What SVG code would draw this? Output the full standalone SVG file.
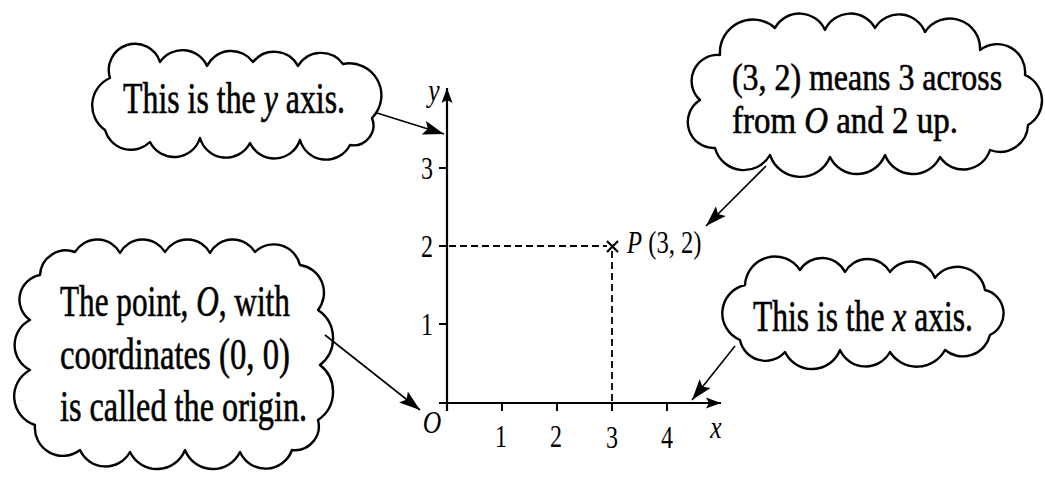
<svg xmlns="http://www.w3.org/2000/svg" width="1045" height="479" viewBox="0 0 1045 479">
  <style>
    .cloud { fill: #fff; stroke: #000; stroke-width: 2.4; stroke-linejoin: round; }
    .txt { font-family: "Liberation Serif", "Times New Roman", serif; font-size: 44px; fill: #000; stroke: #000; stroke-width: 0.6; }
    .lbl { font-family: "Liberation Serif", "Times New Roman", serif; font-size: 32px; fill: #000; text-anchor: middle; }
    .it { font-style: italic; }
    .axis { stroke: #000; stroke-width: 2.2; fill: none; }
    .tick { stroke: #000; stroke-width: 2; }
    .dash { stroke: #000; stroke-width: 1.8; stroke-dasharray: 7 4; fill: none; }
    .conn { stroke: #000; stroke-width: 1.6; fill: none; marker-end: url(#dart); }
  </style>
  <defs>
    <marker id="dart" markerUnits="userSpaceOnUse" markerWidth="22" markerHeight="16" refX="21" refY="8" orient="auto">
      <path d="M0,1 L21,8 L0,15 L4,8 Z" fill="#000"/>
    </marker>
    <marker id="axisHead" markerUnits="userSpaceOnUse" markerWidth="16" markerHeight="12" refX="15" refY="6" orient="auto">
      <path d="M0,0.5 L15,6 L0,11.5 L3,6 Z" fill="#000"/>
    </marker>
  </defs>

  <rect width="1045" height="479" fill="#fff"/>

  <!-- coordinate axes -->
  <g id="axes">
    <line class="axis" x1="447" y1="411" x2="447" y2="88" marker-end="url(#axisHead)"/>
    <line class="axis" x1="439" y1="403" x2="721" y2="403" marker-end="url(#axisHead)"/>
    <!-- y ticks -->
    <line class="tick" x1="439" y1="168" x2="447" y2="168"/>
    <line class="tick" x1="439" y1="246" x2="447" y2="246"/>
    <line class="tick" x1="439" y1="324" x2="447" y2="324"/>
    <!-- x ticks -->
    <line class="tick" x1="502" y1="403" x2="502" y2="411"/>
    <line class="tick" x1="557" y1="403" x2="557" y2="411"/>
    <line class="tick" x1="612" y1="403" x2="612" y2="411"/>
    <line class="tick" x1="667" y1="403" x2="667" y2="411"/>
    <!-- axis labels -->
    <text class="lbl it" transform="translate(434 101) scale(0.8 1)">y</text>
    <text class="lbl it" transform="translate(716 438) scale(0.8 1)">x</text>
    <text class="lbl it" transform="translate(432 433) scale(0.8 1)">O</text>
    <text class="lbl" transform="translate(427 179) scale(0.75 1)">3</text>
    <text class="lbl" transform="translate(427 257) scale(0.75 1)">2</text>
    <text class="lbl" transform="translate(427 335) scale(0.75 1)">1</text>
    <text class="lbl" transform="translate(501 447) scale(0.75 1)">1</text>
    <text class="lbl" transform="translate(556 447) scale(0.75 1)">2</text>
    <text class="lbl" transform="translate(612 448) scale(0.75 1)">3</text>
    <text class="lbl" transform="translate(667 448) scale(0.75 1)">4</text>
  </g>

  <!-- point P and its guide lines -->
  <g id="pointP">
    <line class="dash" x1="449" y1="246" x2="607" y2="246"/>
    <line class="dash" x1="612" y1="251" x2="612" y2="402"/>
    <path d="M607 241 L618 252 M618 241 L607 252" stroke="#000" stroke-width="2.2"/>
    <text class="lbl" style="text-anchor:start" transform="translate(627 253) scale(0.77 1)"><tspan class="it">P</tspan> (3, 2)</text>
  </g>

  <!-- callout: y axis -->
  <g id="cloud-y">
    <path class="cloud" d="M110 78 A26 26 0 0 1 160 62 A27 27 0 0 1 207 66 A27 27 0 0 1 253 62 A27 27 0 0 1 298 66 A27 27 0 0 1 343 64 A32 32 0 0 1 372 118 A20 20 0 0 1 350 145 A27 27 0 0 1 300 140 A27 27 0 0 1 250 143 A27 27 0 0 1 200 138 A27 27 0 0 1 150 142 A27 27 0 0 1 105 130 A30 30 0 0 1 110 78 Z"/>
    <text class="txt" transform="translate(123 113) scale(0.724 1)">This is the <tspan class="it">y</tspan> axis.</text>
  </g>

  <!-- callout: meaning of (3, 2) -->
  <g id="cloud-p">
    <path class="cloud" d="M720 55 A33 33 0 0 1 775 28 A28 28 0 0 1 825 30 A28 28 0 0 1 875 28 A28 28 0 0 1 925 32 A30 30 0 0 1 980 50 A28 28 0 0 1 1025 75 A28 28 0 0 1 1028 125 A28 28 0 0 1 990 150 A28 28 0 0 1 940 157 A30 30 0 0 1 885 155 A30 30 0 0 1 830 157 A32 32 0 0 1 770 155 A30 30 0 0 1 715 148 A26 26 0 0 1 700 100 A26 26 0 0 1 720 55 Z"/>
    <text class="txt" style="font-size:37px" transform="translate(732 90) scale(0.862 1)">(3, 2) means 3 across</text>
    <text class="txt" style="font-size:37px" transform="translate(732 133) scale(0.89 1)">from <tspan class="it">O</tspan> and 2 up.</text>
  </g>

  <!-- callout: origin -->
  <g id="cloud-origin">
    <path class="cloud" d="M40 275 A26 26 0 0 1 75 252 A26 26 0 0 1 120 253 A26 26 0 0 1 165 252 A26 26 0 0 1 210 253 A26 26 0 0 1 255 252 A27 27 0 0 1 300 265 A28 28 0 0 1 318 310 A34 34 0 0 1 320 365 A34 34 0 0 1 318 420 A24 24 0 0 1 292 450 A28 28 0 0 1 240 452 A30 30 0 0 1 185 450 A30 30 0 0 1 130 452 A28 28 0 0 1 80 450 A28 28 0 0 1 35 425 A30 30 0 0 1 30 370 A28 28 0 0 1 30 320 A25 25 0 0 1 40 275 Z"/>
    <text class="txt" transform="translate(60 316) scale(0.71 1)">The point, <tspan class="it">O</tspan>, with</text>
    <text class="txt" transform="translate(60 369) scale(0.744 1)">coordinates (0, 0)</text>
    <text class="txt" transform="translate(60 421) scale(0.733 1)">is called the origin.</text>
  </g>

  <!-- callout: x axis -->
  <g id="cloud-x">
    <path class="cloud" d="M745 285 A30 30 0 0 1 800 270 A26 26 0 0 1 845 272 A26 26 0 0 1 890 272 A26 26 0 0 1 935 278 A28 28 0 0 1 985 290 A24 24 0 0 1 990 335 A28 28 0 0 1 945 350 A32 32 0 0 1 890 352 A28 28 0 0 1 840 350 A30 30 0 0 1 785 352 A26 26 0 0 1 740 340 A29 29 0 0 1 745 285 Z"/>
    <text class="txt" transform="translate(753 331) scale(0.717 1)">This is the <tspan class="it">x</tspan> axis.</text>
  </g>

  <!-- pointer arrows from callouts -->
  <g id="connectors">
    <line class="conn" x1="377" y1="113" x2="444" y2="134"/>
    <line class="conn" x1="766" y1="166" x2="706" y2="226"/>
    <line class="conn" x1="325" y1="335" x2="420" y2="410"/>
    <line class="conn" x1="735" y1="346" x2="692" y2="400"/>
  </g>
</svg>
